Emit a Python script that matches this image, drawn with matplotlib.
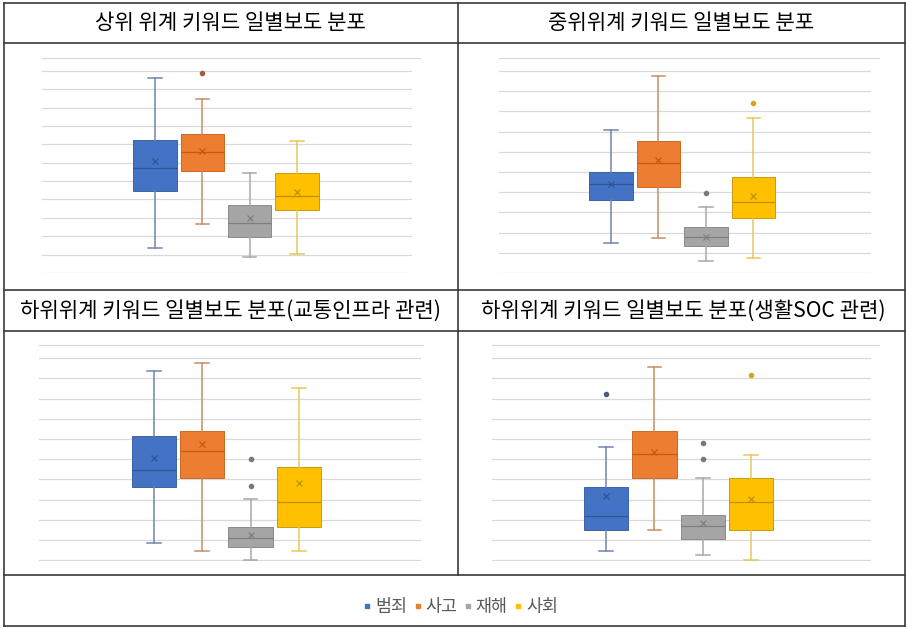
import matplotlib
matplotlib.use("Agg")
import matplotlib.pyplot as plt
from matplotlib.lines import Line2D

plt.rcParams['font.family'] = ['Noto Sans CJK KR', 'DejaVu Sans']

# ---------------- data ----------------
series = ["범죄", "사고", "재해", "사회"]
titles = ["상위 위계 키워드 일별보도 분포",
          "중위위계 키워드 일별보도 분포",
          "하위위계 키워드 일별보도 분포(교통인프라 관련)",
          "하위위계 키워드 일별보도 분포(생활SOC 관련)"]

# per panel, per series: [whislo, q1, median, q3, whishi]
p1_stats = [[1.36, 4.44, 5.71, 7.25, 10.63],
            [2.66, 5.53, 6.58, 7.59, 9.46],
            [0.87, 1.96, 2.72, 3.70, 5.43],
            [1.05, 3.41, 4.17, 5.43, 7.16]]
p1_means = [6.10, 6.62, 2.99, 4.40]
p1_fliers = [[], [10.90], [], []]

p2_stats = [[1.47, 3.61, 4.40, 4.99, 7.08],
            [1.71, 4.23, 5.44, 6.54, 9.74],
            [0.59, 1.33, 1.80, 2.29, 3.25],
            [0.72, 2.70, 3.49, 4.74, 7.66]]
p2_means = [4.40, 5.60, 1.80, 3.82]
p2_fliers = [[], [], [3.95], [8.39]]

p3_stats = [[0.86, 3.62, 4.48, 6.16, 9.37],
            [0.48, 4.05, 5.39, 6.41, 9.77],
            [0.03, 0.66, 1.10, 1.66, 3.05],
            [0.48, 1.66, 2.88, 4.63, 8.55]]
p3_means = [5.06, 5.75, 1.24, 3.82]
p3_fliers = [[], [], [3.66, 5.02], []]

p4_stats = [[0.48, 1.48, 2.17, 3.62, 5.60],
            [1.52, 4.05, 5.26, 6.41, 9.57],
            [0.28, 1.05, 1.70, 2.22, 4.05],
            [0.00, 1.48, 2.88, 4.07, 5.22]]
p4_means = [3.16, 5.37, 1.85, 3.05]
p4_fliers = [[8.22], [], [5.02, 5.82], [9.16]]

grid_counts = [11, 10, 10, 10]

# ---------------- style ----------------
face = ['#4472C4', '#ED7D31', '#A5A5A5', '#FFC000']
dark = ['#2F5597', '#C55A11', '#7F7F7F', '#BF9000']
whisk = ['#6F86AD', '#C88D65', '#A8A8A8', '#E9C75A']
flier_col = ['#4A5E80', '#A0613A', '#7A7A7A', '#D6A520']

W, H = 906, 628
fig = plt.figure(figsize=(W / 100, H / 100), dpi=100)

bg = fig.add_axes([0, 0, 1, 1])
bg.set_xlim(0, W)
bg.set_ylim(H, 0)
bg.axis('off')

# panel layout in pixels: left, right, top, bottom, xlim, top-line end
panels = [
    (42, 412, 58.3, 273.3, (-1.39, 6.43), 420),
    (498.7, 871, 58.3, 273.3, (-1.364, 6.474), 879),
    (39, 421, 345, 560.7, (-1.38, 6.53), 423),
    (492, 871, 345, 560.7, (-1.355, 6.475), 879),
]
all_stats = [p1_stats, p2_stats, p3_stats, p4_stats]
all_means = [p1_means, p2_means, p3_means, p4_means]
all_fliers = [p1_fliers, p2_fliers, p3_fliers, p4_fliers]

for pi, (l, r, t, b, xl, topend) in enumerate(panels):
    ax = fig.add_axes([l / W, 1 - b / H, (r - l) / W, (b - t) / H])
    n = grid_counts[pi]
    spacing = (b - 71 if pi < 2 else b - 358.3) / n
    top_val = (b - t) / spacing
    ax.set_ylim(-0.02, top_val)
    ax.set_xlim(*xl)
    for k in range(n + 1):
        ax.axhline(k, color='#D9D9D9', lw=0.9, zorder=0)
    for s in ax.spines.values():
        s.set_visible(False)
    ax.set_xticks([])
    ax.set_yticks([])
    ax.patch.set_alpha(0)
    bg.plot([l, topend], [t, t], color='#D9D9D9', lw=0.9, zorder=1)

    for si in range(4):
        lo, q1, med, q3, hi = all_stats[pi][si]
        st = [dict(whislo=lo, q1=q1, med=med, q3=q3, whishi=hi,
                   mean=all_means[pi][si], fliers=all_fliers[pi][si])]
        ax.bxp(st, positions=[si + 1], widths=0.92, patch_artist=True,
               showmeans=True, manage_ticks=False,
               boxprops=dict(facecolor=face[si], edgecolor=dark[si], lw=0.6),
               medianprops=dict(color=dark[si], lw=0.9),
               meanprops=dict(marker='x', markeredgecolor=dark[si],
                              markersize=5, markeredgewidth=0.9),
               whiskerprops=dict(color=whisk[si], lw=1.1),
               capprops=dict(color=whisk[si], lw=1.1),
               capwidths=0.28,
               flierprops=dict(marker='o', markerfacecolor=flier_col[si],
                               markeredgecolor=flier_col[si], markersize=3))

# ---------------- table borders ----------------
bc = '#3A3A3A'
lw = 1.2
for y in [3, 43, 290, 331, 575, 626]:
    bg.plot([3.5, 904.5], [y, y], color=bc, lw=lw, zorder=5)
for x in [3.5, 904.5]:
    bg.plot([x, x], [3, 626], color=bc, lw=lw, zorder=5)
bg.plot([458, 458], [3, 575], color=bc, lw=lw, zorder=5)

# titles
title_pos = [(230.5, 23), (681, 23), (230.5, 310.5), (683, 310.5)]
for (x, y), tt in zip(title_pos, titles):
    bg.text(x, y, tt, ha='center', va='center', fontsize=15.2, color='black')

# legend
handles = [Line2D([], [], marker='s', linestyle='none', markersize=3,
                  markerfacecolor=face[i], markeredgecolor=face[i])
           for i in range(4)]
leg = fig.legend(handles, series, loc='center', bbox_to_anchor=(461 / W, 1 - 607 / H),
                 ncol=4, frameon=False, fontsize=12.5, handlelength=0.4,
                 handletextpad=0.25, columnspacing=0.4, labelcolor='#595959')

fig.savefig('out.png', dpi=100)
